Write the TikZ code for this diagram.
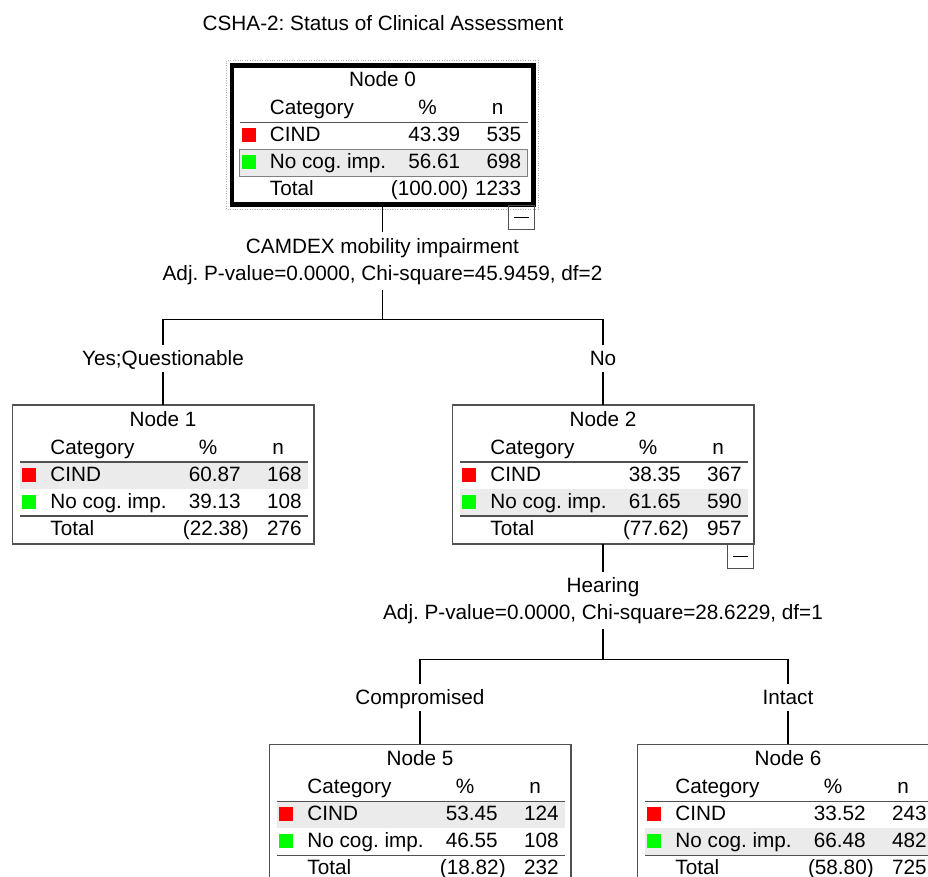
\documentclass[tikz,border=0pt]{standalone}
\usepackage{fontspec}
\setmainfont{Liberation Sans}
\frenchspacing
\usetikzlibrary{positioning, calc}
\definecolor{cindred}{HTML}{FF0000}
\definecolor{nocoggreen}{HTML}{00FF00}
\definecolor{rowgray}{HTML}{EBEBEB}
\definecolor{boxline}{HTML}{505050}

\tikzset{
  treebox/.style={draw=boxline, line width=0.6pt, minimum width=6.04cm, minimum height=2.78cm, inner sep=0pt, outer sep=0pt},
  celltext/.style={inner sep=0pt, font=\fontsize{11.8}{14}\selectfont},
  splitlabel/.style={align=center, inner xsep=0pt, inner ysep=3pt, font=\fontsize{11.8}{15.3}\selectfont},
  branchlabel/.style={inner xsep=0pt, inner ysep=3.4pt, text height=8.5pt, text depth=0pt, font=\fontsize{11.8}{14}\selectfont},
  catkey/.style={minimum size=0.28cm, inner sep=0pt},
  collapsebox/.style={draw=boxline, line width=0.5pt, minimum width=0.52cm, minimum height=0.48cm, inner sep=0pt},
  link/.style={line width=0.6pt},
}

% one category table inside a tree node: name, number, CIND %, n, No cog. %, n, total %, n, shaded row
\newcommand{\cattable}[9]{%
  \begin{scope}[shift={(#1.north west)}]
    \fill[rowgray] (8,{30+27*#9}) rectangle (296,{57+27*#9});
    \node[celltext, anchor=base] (#1-title) at (151,21) {Node #2};
    \node[celltext, anchor=base west] (#1-cat) at (38,49) {Category};
    \node[celltext, anchor=base] (#1-pct) at (196,49) {\%};
    \node[celltext, anchor=base] (#1-n) at (266,49) {n};
    \draw[link, boxline] (8,57) -- (296,57);
    \node[catkey, fill=cindred] (#1-k1) at (17,69.5) {};
    \node[celltext, anchor=base west] (#1-c1) at (38,76) {CIND};
    \node[celltext, anchor=base east] (#1-p1) at (229,76) {#3};
    \node[celltext, anchor=base east] (#1-n1) at (290,76) {#4};
    \node[catkey, fill=nocoggreen] (#1-k2) at (17,96.5) {};
    \node[celltext, anchor=base west] (#1-c2) at (38,103) {No cog. imp.};
    \node[celltext, anchor=base east] (#1-p2) at (229,103) {#5};
    \node[celltext, anchor=base east] (#1-n2) at (290,103) {#6};
    \draw[link, boxline] (8,111) -- (296,111);
    \node[celltext, anchor=base west] (#1-c3) at (38,130) {Total};
    \node[celltext, anchor=base east] (#1-p3) at (237,130) {#7};
    \node[celltext, anchor=base east] (#1-n3) at (290,130) {#8};
  \end{scope}}

\begin{document}
\begin{tikzpicture}[x=0.02cm, y=-0.02cm]
  \useasboundingbox (0,0) rectangle (928,876);
  \clip (0,0) rectangle (928,876);

  \node[celltext, anchor=base] (title) at (383,30) {CSHA-2: Status of Clinical Assessment};

  % root
  \node[treebox, draw=black, line width=2.3pt] (n0) at (382.5,135) {};
  \draw[gray!60, densely dotted, line width=0.4pt] ($(n0.north west)+(-5,-5)$) rectangle ($(n0.south east)+(5,5)$);
  \cattable{n0}{0}{43.39}{535}{56.61}{698}{(100.00)}{1233}{2}
  \draw[gray, line width=0.4pt] ($(n0.north west)+(8,84)$) rectangle ($(n0.north west)+(296,111)$);
  \node[collapsebox, anchor=north east] (n0-fold) at ($(n0.south east)+(1,1)$) {\rule{0.3cm}{0.5pt}};

  \node[splitlabel, below=0.56cm of n0] (s0) {CAMDEX mobility impairment\\Adj. P-value=0.0000, Chi-square=45.9459, df=2};
  \coordinate[below=0.6cm of s0] (j0);
  \node[branchlabel] (l1) at (163,358.5) {Yes;Questionable};
  \node[branchlabel] (l2) at (603,358.5) {No};

  % first split
  \node[treebox] (n1) at (163,474.5) {};
  \cattable{n1}{1}{60.87}{168}{39.13}{108}{(22.38)}{276}{1}
  \node[treebox] (n2) at (603,474.5) {};
  \cattable{n2}{2}{38.35}{367}{61.65}{590}{(77.62)}{957}{2}
  \node[collapsebox, anchor=north east] (n2-fold) at (n2.south east) {\rule{0.3cm}{0.5pt}};

  \draw[link] (n0.south) -- (s0.north);
  \draw[link] (s0.south) -- (j0);
  \draw[link] (l1.north) |- (j0) -| (l2.north);
  \draw[link] (l1.south) -- (n1.north);
  \draw[link] (l2.south) -- (n2.north);

  \node[splitlabel, below=0.56cm of n2] (s2) {Hearing\\Adj. P-value=0.0000, Chi-square=28.6229, df=1};
  \coordinate[below=0.6cm of s2] (j2);
  \node[branchlabel] (l5) at (420,697.5) {Compromised};
  \node[branchlabel] (l6) at (788,697.5) {Intact};

  % second split
  \node[treebox] (n5) at (420,813.5) {};
  \cattable{n5}{5}{53.45}{124}{46.55}{108}{(18.82)}{232}{1}
  \node[treebox] (n6) at (788,813.5) {};
  \cattable{n6}{6}{33.52}{243}{66.48}{482}{(58.80)}{725}{2}

  \draw[link] (n2.south) -- (s2.north);
  \draw[link] (s2.south) -- (j2);
  \draw[link] (l5.north) |- (j2) -| (l6.north);
  \draw[link] (l5.south) -- (n5.north);
  \draw[link] (l6.south) -- (n6.north);
\end{tikzpicture}
\end{document}
